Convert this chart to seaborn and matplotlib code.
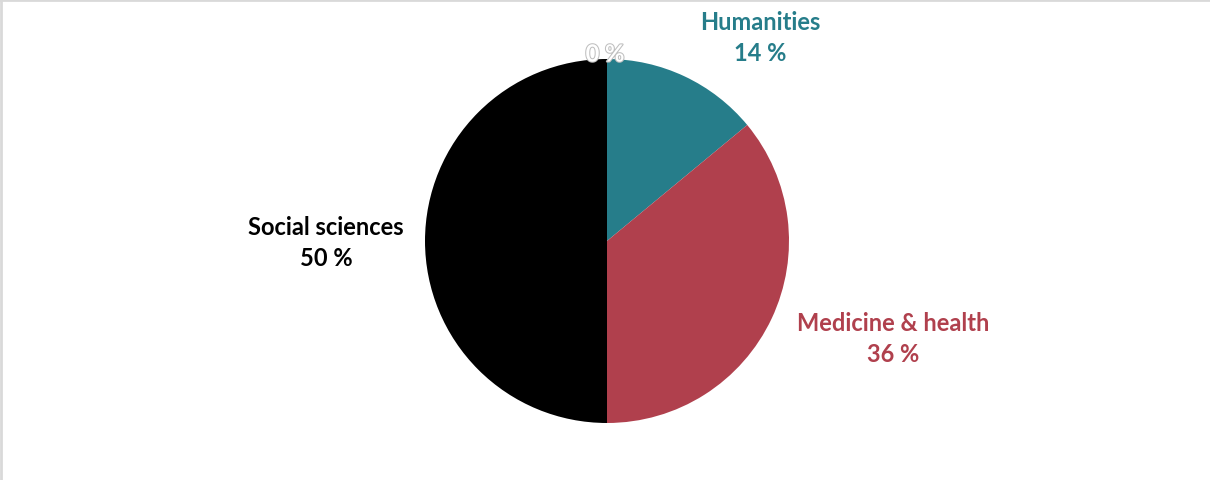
import matplotlib
matplotlib.use("Agg")
import matplotlib.pyplot as plt
import matplotlib.patheffects as pe
from matplotlib.lines import Line2D
import seaborn as sns

categories = ["Humanities", "Medicine & health", "Social sciences", ""]
values = [14, 36, 50, 0]
colors = ["#267D8A", "#B0404D", "#000000", "#A6A6A6"]

sns.set_theme(style="white")
plt.rcParams['font.family'] = ['Lato', 'DejaVu Sans']

W, H = 1210, 481
fig = plt.figure(figsize=(W / 100, H / 100), dpi=100)
ax = fig.add_axes([0, 0, 1, 1])

cx, cy, r = 607, H - 242, 182
palette = sns.color_palette(colors)
wedges, _ = ax.pie(values, colors=palette, startangle=90, counterclock=False,
                   center=(cx, cy), radius=r, frame=True,
                   wedgeprops=dict(linewidth=0))
ax.set_xlim(0, W)
ax.set_ylim(0, H)
ax.set_aspect('equal')
ax.axis('off')

label_pos = [(760, 38), (893, 339), (326, 243), (605, 55)]
text_colors = ["#267D8A", "#B0404D", "#000000", "#FFFFFF"]
for cat, v, (lx, ly), tc in zip(categories, values, label_pos, text_colors):
    txt = f"{cat}\n{v} %" if cat else f"{v} %"
    t = ax.text(lx, H - ly, txt, ha='center', va='center', fontsize=17,
                fontweight='bold', color=tc, linespacing=1.45)
    if not cat:
        t.set_path_effects([pe.withStroke(linewidth=1.5, foreground="#BFBFBF")])
        t.set_zorder(5)

fig.add_artist(Line2D([0, 1], [1 - 1 / H, 1 - 1 / H], transform=fig.transFigure,
                      color="#D9D9D9", linewidth=2))
fig.add_artist(Line2D([1 / W, 1 / W], [0, 1], transform=fig.transFigure,
                      color="#D9D9D9", linewidth=2))

fig.savefig("out.png", dpi=100)
